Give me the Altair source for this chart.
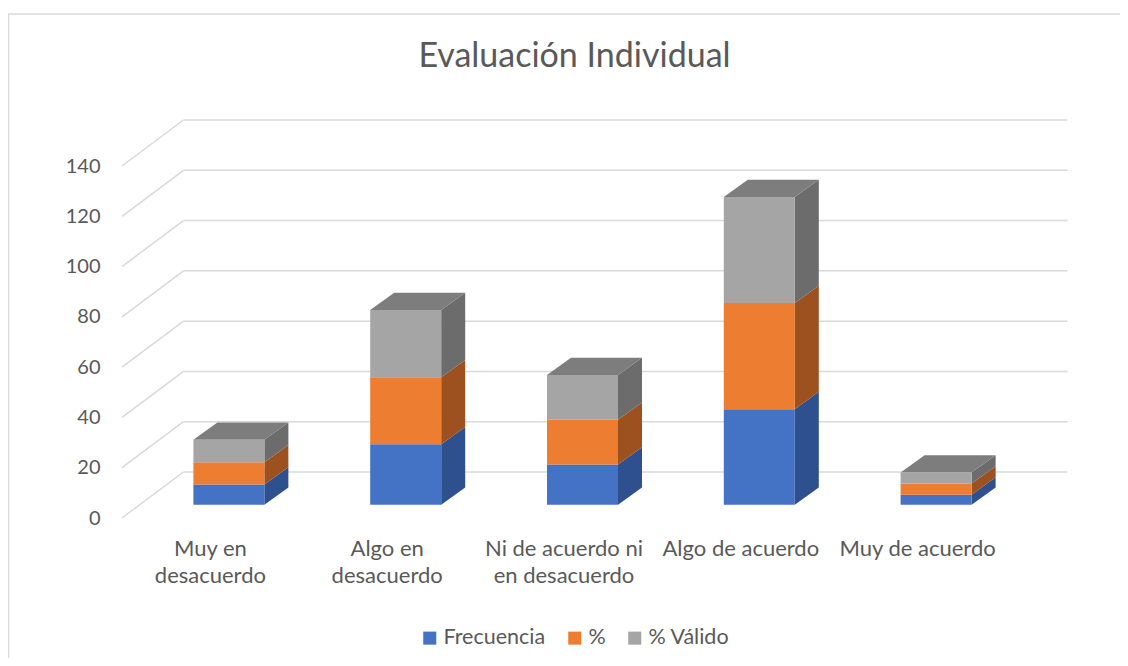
import altair as alt
import pandas as pd

# ---------------- data ----------------
CATEGORIES = ["Muy en desacuerdo", "Algo en desacuerdo", "Ni de acuerdo ni en desacuerdo",
              "Algo de acuerdo", "Muy de acuerdo"]
CAT_LABELS = ["Muy en\ndesacuerdo", "Algo en\ndesacuerdo", "Ni de acuerdo ni\nen desacuerdo",
              "Algo de acuerdo", "Muy de acuerdo"]
SERIES = ["Frecuencia", "%", "% Válido"]
FRECUENCIA = [8, 24, 16, 38, 4]
PORCENTAJE = [8.9, 26.7, 17.8, 42.2, 4.4]
VALIDO = [8.9, 26.7, 17.8, 42.2, 4.4]
Y_TICKS = [0, 20, 40, 60, 80, 100, 120, 140]
TITLE = "Evaluación Individual"

# ---------------- style ----------------
FRONT = ["#4472C4", "#ED7D31", "#A5A5A5"]
SIDE = ["#2E508E", "#9C511F", "#6C6C6C"]
TOP = "#7D7D7D"
GRID = "#D9D9D9"
TEXT = "#595959"
FONT = "Lato"

W, H = 884, 352
PX_X = W / 5.0
PX_Y = H / 140.0
BAR_W = 71 / PX_X
DEPTH_X = 24 / PX_X
DEPTH_Y = 17.3 / PX_Y
SHIFT_X, SHIFT_Y = 18.5, -13.3
WALL_DX, WALL_DY = 61.5, 46.0

# ---------------- tables ----------------
front_rows, side_rows, top_rows = [], [], []
for i, cat in enumerate(CATEGORIES):
    base = 0.0
    for s, (name, vals) in enumerate(zip(SERIES, [FRECUENCIA, PORCENTAJE, VALIDO])):
        v = vals[i]
        y0, y1 = base, base + v
        x0, x1 = i - BAR_W / 2, i + BAR_W / 2
        key = f"{i}-{s}"
        front_rows.append(dict(cat=cat, serie=name, x0=x0, x1=x1, y0=y0, y1=y1))
        side_rows.append(dict(key=key, fill=SIDE[s], x=x1, lo=y0, hi=y1))
        side_rows.append(dict(key=key, fill=SIDE[s], x=x1 + DEPTH_X, lo=y0 + DEPTH_Y, hi=y1 + DEPTH_Y))
        base = y1
    top = base
    x0, x1 = i - BAR_W / 2, i + BAR_W / 2
    k = f"top-{i}"
    top_rows += [
        dict(key=k, x=x0, lo=top, hi=top),
        dict(key=k, x=x0 + DEPTH_X, lo=top, hi=top + DEPTH_Y),
        dict(key=k, x=x1, lo=top, hi=top + DEPTH_Y),
        dict(key=k, x=x1 + DEPTH_X, lo=top + DEPTH_Y, hi=top + DEPTH_Y),
    ]

front_df = pd.DataFrame(front_rows)
side_df = pd.DataFrame(side_rows)
top_df = pd.DataFrame(top_rows)
grid_df = pd.DataFrame({"v": Y_TICKS})
grid_df["xa"] = -0.5
grid_df["xb"] = 4.5
grid_df["xd"] = -0.5 + WALL_DX / PX_X
grid_df["vd"] = grid_df["v"] + WALL_DY / PX_Y
label_df = pd.DataFrame({"i": list(range(len(CATEGORIES))), "label": CAT_LABELS})

xs = alt.Scale(domain=[-0.5, 4.5], nice=False, zero=False)
ys = alt.Scale(domain=[0, 140], nice=False, zero=True)

# back wall horizontal lines
wall = alt.Chart(grid_df).mark_rule(
    color=GRID, strokeWidth=1.5, xOffset=WALL_DX, x2Offset=WALL_DX, yOffset=-WALL_DY
).encode(
    x=alt.X("xa:Q", scale=xs, axis=None),
    x2="xb:Q",
    y=alt.Y("v:Q", scale=ys,
            axis=alt.Axis(values=Y_TICKS, grid=False, domain=False, ticks=False,
                          labelPadding=22, labelFontSize=20, labelFont=FONT,
                          labelColor=TEXT, title=None)),
)

# left wall diagonals
diag = alt.Chart(grid_df).mark_rule(color=GRID, strokeWidth=1.5).encode(
    x=alt.X("xa:Q", scale=xs, axis=None),
    x2="xd:Q",
    y=alt.Y("v:Q", scale=ys),
    y2="vd:Q",
)

side = alt.Chart(side_df).mark_area(
    xOffset=SHIFT_X, yOffset=SHIFT_Y, y2Offset=SHIFT_Y
).encode(
    x=alt.X("x:Q", scale=xs, axis=None),
    y=alt.Y("lo:Q", scale=ys),
    y2="hi:Q",
    fill=alt.Fill("fill:N", scale=None),
    detail="key:N",
)

topf = alt.Chart(top_df).mark_area(
    color=TOP, xOffset=SHIFT_X, yOffset=SHIFT_Y, y2Offset=SHIFT_Y
).encode(
    x=alt.X("x:Q", scale=xs, axis=None),
    y=alt.Y("lo:Q", scale=ys),
    y2="hi:Q",
    detail="key:N",
)

front = alt.Chart(front_df).mark_rect(
    xOffset=SHIFT_X, x2Offset=SHIFT_X, yOffset=SHIFT_Y, y2Offset=SHIFT_Y
).encode(
    x=alt.X("x0:Q", scale=xs, axis=None),
    x2="x1:Q",
    y=alt.Y("y0:Q", scale=ys),
    y2="y1:Q",
    color=alt.Color(
        "serie:N",
        scale=alt.Scale(domain=SERIES, range=FRONT),
        legend=alt.Legend(
            orient="none", legendX=297, legendY=461, direction="horizontal", columns=3,
            title=None, symbolType="square", symbolSize=170, symbolStrokeWidth=0,
            labelFontSize=21.5, labelFont=FONT, labelColor=TEXT, columnPadding=18,
            labelOffset=3,
        ),
    ),
)

labels = alt.Chart(label_df).mark_text(
    fontSize=22, font=FONT, color=TEXT, align="center", baseline="alphabetic",
    lineBreak="\n", lineHeight=27,
).encode(
    x=alt.X("i:Q", scale=xs, axis=None),
    y=alt.value(H + 38),
    text="label:N",
)

title = alt.Chart(pd.DataFrame({"t": [TITLE]})).mark_text(
    fontSize=34, font=FONT, color=TEXT, align="center", baseline="alphabetic"
).encode(x=alt.value(452.5), y=alt.value(-99), text="t:N")

border = alt.Chart(pd.DataFrame({"b": [0]})).mark_rect(
    fill=None, stroke=GRID, strokeWidth=1.5
).encode(
    x=alt.value(-113.5), x2=alt.value(W + 200),
    y=alt.value(-152), y2=alt.value(H + 300),
)

chart = alt.layer(border, wall, diag, side, topf, front, labels, title).properties(
    width=W, height=H,
    autosize=alt.AutoSizeParams(type="none"),
    padding={"left": 114, "top": 158, "right": 114, "bottom": 140},
).configure_view(stroke=None)

chart.save("out.html", embed_options={"renderer": "svg", "actions": False})
